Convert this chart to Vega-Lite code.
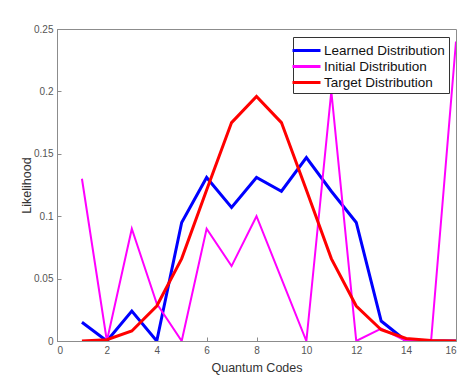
{
  "$schema": "https://vega.github.io/schema/vega-lite/v6.json",
  "width": 399,
  "height": 312,
  "autosize": {"type": "none"},
  "padding": {"left": 57, "top": 29, "right": 17, "bottom": 42},
  "background": "white",
  "config": {
    "view": {"stroke": "#8c8c8c", "strokeWidth": 1},
    "font": "Liberation Sans",
    "axis": {
      "grid": false,
      "domainColor": "#8c8c8c",
      "tickColor": "#8c8c8c",
      "labelColor": "#555555",
      "labelFontSize": 10,
      "titleColor": "#333333",
      "titleFontSize": 12.5,
      "titleFontWeight": "normal",
      "labelFont": "Liberation Sans",
      "titleFont": "Liberation Sans"
    }
  },
  "data": {
    "values": [
      {"code": 1, "value": 0.015, "series": "Learned Distribution"},
      {"code": 2, "value": 0.0, "series": "Learned Distribution"},
      {"code": 3, "value": 0.024, "series": "Learned Distribution"},
      {"code": 4, "value": 0.0, "series": "Learned Distribution"},
      {"code": 5, "value": 0.095, "series": "Learned Distribution"},
      {"code": 6, "value": 0.131, "series": "Learned Distribution"},
      {"code": 7, "value": 0.107, "series": "Learned Distribution"},
      {"code": 8, "value": 0.131, "series": "Learned Distribution"},
      {"code": 9, "value": 0.12, "series": "Learned Distribution"},
      {"code": 10, "value": 0.147, "series": "Learned Distribution"},
      {"code": 11, "value": 0.12, "series": "Learned Distribution"},
      {"code": 12, "value": 0.095, "series": "Learned Distribution"},
      {"code": 13, "value": 0.016, "series": "Learned Distribution"},
      {"code": 14, "value": 0.0, "series": "Learned Distribution"},
      {"code": 15, "value": 0.0, "series": "Learned Distribution"},
      {"code": 16, "value": 0.0, "series": "Learned Distribution"},
      {"code": 1, "value": 0.13, "series": "Initial Distribution"},
      {"code": 2, "value": 0.0, "series": "Initial Distribution"},
      {"code": 3, "value": 0.09, "series": "Initial Distribution"},
      {"code": 4, "value": 0.03, "series": "Initial Distribution"},
      {"code": 5, "value": 0.0, "series": "Initial Distribution"},
      {"code": 6, "value": 0.09, "series": "Initial Distribution"},
      {"code": 7, "value": 0.06, "series": "Initial Distribution"},
      {"code": 8, "value": 0.1, "series": "Initial Distribution"},
      {"code": 9, "value": 0.05, "series": "Initial Distribution"},
      {"code": 10, "value": 0.0, "series": "Initial Distribution"},
      {"code": 11, "value": 0.2, "series": "Initial Distribution"},
      {"code": 12, "value": 0.0, "series": "Initial Distribution"},
      {"code": 13, "value": 0.01, "series": "Initial Distribution"},
      {"code": 14, "value": 0.0, "series": "Initial Distribution"},
      {"code": 15, "value": 0.0, "series": "Initial Distribution"},
      {"code": 16, "value": 0.24, "series": "Initial Distribution"},
      {"code": 1, "value": 0.0, "series": "Target Distribution"},
      {"code": 2, "value": 0.001, "series": "Target Distribution"},
      {"code": 3, "value": 0.008, "series": "Target Distribution"},
      {"code": 4, "value": 0.028, "series": "Target Distribution"},
      {"code": 5, "value": 0.066, "series": "Target Distribution"},
      {"code": 6, "value": 0.121, "series": "Target Distribution"},
      {"code": 7, "value": 0.175, "series": "Target Distribution"},
      {"code": 8, "value": 0.196, "series": "Target Distribution"},
      {"code": 9, "value": 0.175, "series": "Target Distribution"},
      {"code": 10, "value": 0.121, "series": "Target Distribution"},
      {"code": 11, "value": 0.066, "series": "Target Distribution"},
      {"code": 12, "value": 0.028, "series": "Target Distribution"},
      {"code": 13, "value": 0.009, "series": "Target Distribution"},
      {"code": 14, "value": 0.002, "series": "Target Distribution"},
      {"code": 15, "value": 0.0005, "series": "Target Distribution"},
      {"code": 16, "value": 0.0, "series": "Target Distribution"}
    ]
  },
  "encoding": {
    "x": {
      "field": "code",
      "type": "quantitative",
      "scale": {"domain": [0, 16], "nice": false, "zero": false},
      "axis": {"values": [0, 2, 4, 6, 8, 10, 12, 14, 16], "tickSize": -4, "labelPadding": 8, "title": "Quantum Codes", "titlePadding": 6, "format": "d"}
    },
    "y": {
      "field": "value",
      "type": "quantitative",
      "scale": {"domain": [0, 0.25], "nice": false},
      "axis": {"values": [0, 0.05, 0.1, 0.15, 0.2, 0.25], "tickSize": -4, "labelPadding": 8, "title": "Likelihood", "titlePadding": 0, "format": "~g"}
    },
    "color": {
      "field": "series",
      "type": "nominal",
      "scale": {
        "domain": ["Learned Distribution", "Initial Distribution", "Target Distribution"],
        "range": ["#0000ff", "#ff00ff", "#ff0000"]
      },
      "legend": {
        "title": null,
        "orient": "none",
        "legendX": 236,
        "legendY": 8,
        "symbolType": "M-1.75,0H1.75",
        "symbolSize": 256,
        "symbolStrokeWidth": 3,
        "labelFontSize": 13.5,
        "labelColor": "#111111",
        "labelFont": "Liberation Sans",
        "strokeColor": "#333333",
        "fillColor": "white",
        "padding": 4,
        "rowPadding": -0.5,
        "labelOffset": 8
      }
    }
  },
  "layer": [
    {
      "transform": [{"filter": "datum.series === 'Learned Distribution'"}],
      "mark": {"type": "line", "strokeJoin": "miter", "strokeWidth": 3, "clip": true}
    },
    {
      "transform": [{"filter": "datum.series === 'Initial Distribution'"}],
      "mark": {"type": "line", "strokeJoin": "miter", "strokeWidth": 2, "clip": true}
    },
    {
      "transform": [{"filter": "datum.series === 'Target Distribution'"}],
      "mark": {"type": "line", "strokeJoin": "miter", "strokeWidth": 3, "clip": true}
    }
  ]
}
